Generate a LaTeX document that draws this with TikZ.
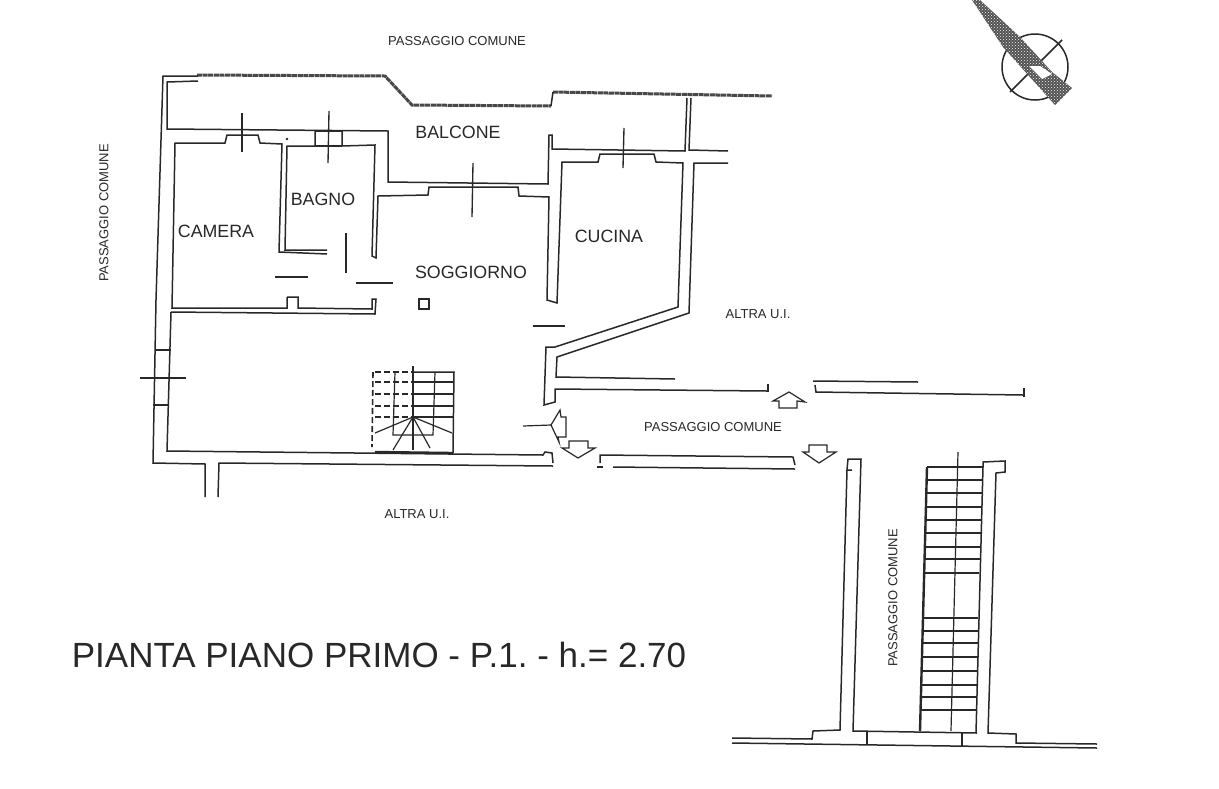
\documentclass[tikz,border=0pt]{standalone}
\usepackage{tikz}
\usepackage{xcolor}
\usepackage{fontspec}
\usetikzlibrary{patterns}
\setmainfont{Liberation Sans}
\frenchspacing
\definecolor{inkdark}{RGB}{40,40,40}
\definecolor{inkgrey}{RGB}{80,80,80}
\tikzset{
    wall/.style={draw=inkdark, line width=1.5pt},
    thinwall/.style={draw=inkdark, line width=1.2pt},
    hatchwall/.style={draw=inkdark!85, line width=3pt, dash pattern=on 5pt off 0.6pt},
    doorline/.style={draw=inkdark, line width=1.35pt},
    stairdash/.style={draw=inkdark, line width=1.6pt, dash pattern=on 6pt off 3pt},
    roomlabel/.style={text=inkdark, font=\fontsize{17.8}{20}\selectfont, inner sep=0pt},
    passlabel/.style={text=inkdark, font=\fontsize{13}{15}\selectfont, inner sep=0pt},
    titlelabel/.style={text=inkdark, font=\fontsize{35}{38}\selectfont, inner sep=0pt}
}

\begin{document}
\begin{tikzpicture}[x=1pt, y=-1pt]
    \fill[white] (0,0) rectangle (1219,788);
    \useasboundingbox (0,0) rectangle (1219,788);

    % balcony edge
    \draw[hatchwall] (197,75) -- (385,76) -- (412,105) -- (551,106);
    \draw[hatchwall] (553,92) -- (772,96);
    \draw[wall] (551,106) -- (553,92);
    \draw[wall] (198,76) -- (163,76) -- (156,300) -- (153,463) -- (205,464) -- (205,497);
    \draw[wall] (198,81) -- (167,82) -- (167,129) -- (388,131) -- (388,182) -- (548,184) -- (549,135) -- (552,135) -- (552,149) -- (685,151) -- (687,98);
    \draw[wall] (691,98) -- (689,150) -- (728,151);

    % outer left wall and window
    \draw[wall] (171,312) -- (167,451) -- (543,455) -- (545,452) -- (552,453) -- (553,463);
    \draw[wall] (155,350) -- (171,350);
    \draw[wall] (153,405) -- (169,405);
    \draw[doorline] (140,378) -- (186,378);
    \draw[wall] (218,497) -- (219,463) -- (553,466);

    % camera and bagno
    \draw[wall] (287,297) -- (287,308) -- (172,308) -- (175,143) -- (225,143) -- (227,135) -- (258,135) -- (260,143) -- (282,144) -- (279,252) -- (327,254);
    \draw[wall] (327,250) -- (285,250) -- (287,146) -- (315,146) -- (315,131) -- (342,131) -- (342,146) -- (375,145) -- (372,256) -- (376,258) -- (378,196) -- (428,195) -- (429,187) -- (518,187) -- (519,196) -- (549,197) -- (547,300) -- (557,303) -- (562,162) -- (598,162) -- (600,154) -- (654,154) -- (656,162) -- (683,163) -- (678,307) -- (555,347) -- (546,347) -- (544,405) -- (555,402) -- (555,389) -- (767,391);
    \draw[wall] (315,146) -- (342,146);
    \draw[wall] (287,297) -- (298,297) -- (298,308) -- (372,309) -- (372,299) -- (376,299) -- (375,314) -- (171,312);
    \fill[inkdark] (287,139) circle (1.3pt);
    \draw[doorline] (242,113) -- (242,152);
    \draw[doorline] (329,111) -- (328,163);
    \draw[doorline] (473,163) -- (472,217);
    \draw[doorline] (624,128) -- (623,168);
    \draw[doorline] (275,277) -- (308,277);
    \draw[doorline] (346,233) -- (346,273);
    \draw[doorline] (356,283) -- (393,283);
    \draw[doorline] (533,326) -- (565,326);
    \draw[wall] (419,299) rectangle (429,309);

    % cucina and corridor walls
    \draw[wall] (728,163) -- (694,163) -- (689,313) -- (557,357) -- (556,377) -- (675,379);
    \draw[wall] (768,384) -- (768,392);
    \draw[wall] (813,381) -- (918,382);
    \draw[wall] (815,385) -- (816,392) -- (1023,395);
    \draw[wall] (1024,388) -- (1024,397);
    \draw[wall] (597,467) -- (603,467);
    \draw[wall] (600,463) -- (600,455) -- (793,457) -- (795,465);
    \draw[wall] (613,467) -- (795,469);

    % entry arrows
    \draw[thinwall] (789,392) -- (805,402) -- (797,401) -- (797,408) -- (779,408) -- (779,401) -- (773,401) -- cycle;
    \draw[thinwall] (551,425) -- (560,410) -- (561,417) -- (566,417) -- (566,437) -- (558,437) -- (559,442) -- cycle;
    \draw[thinwall] (523,426) -- (551,425);
    \draw[thinwall] (578,458) -- (562,448) -- (569,448) -- (569,441) -- (588,441) -- (588,448) -- (595,448) -- cycle;
    \draw[thinwall] (819,463) -- (803,452) -- (809,452) -- (809,445) -- (827,445) -- (827,452) -- (836,452) -- cycle;

    % inner stair
    \draw[stairdash] (375,372) -- (413,372);
    \draw[stairdash] (373,372) -- (372,447);
    \draw[wall] (413,372) -- (454,372) -- (453,453);
    \draw[thinwall] (413,366) -- (413,450);
    \draw[thinwall] (395,372) -- (393,435) -- (433,435) -- (435,372);
    \foreach \ty in {382,394,406,417} {
        \draw[thinwall] (413,\ty) -- (453,\ty);
        \draw[stairdash, line width=1.2pt] (375,\ty) -- (413,\ty);
    }
    \draw[thinwall] (375,433) -- (413,417) -- (452,433);
    \draw[thinwall] (393,450) -- (413,417) -- (430,448);
    \draw[line width=2.4pt, draw=inkdark] (375,452) -- (453,453);

    % long stair and side walls
    \draw[wall] (852,470) -- (847,470) -- (848,459) -- (861,459) -- (853,731) -- (977,733);
    \draw[wall] (847,470) -- (840,730) -- (813,731) -- (812,739) -- (732,738);
    \draw[wall] (983,467) -- (983,462) -- (1005,461) -- (1005,472) -- (996,473) -- (988,733) -- (1016,734) -- (1016,743) -- (1097,744);
    \draw[wall] (732,743) -- (1097,748);
    \draw[wall] (867,732) -- (867,745);
    \draw[wall] (962,733) -- (962,747);
    \draw[line width=2.4pt, draw=inkdark] (927,467) -- (920,731);
    \draw[wall] (983,467) -- (976,733);
    \draw[line width=2pt, draw=inkdark] (927,467) -- (983,467);
    \draw[thinwall] (958,452) -- (951,731);
    \foreach \ty/\tl/\tr in {480/926/983,493/926/982,507/925/982,520/925/981,533/925/981,547/924/981,559/924/980,573/923/979,618/922/978,631/922/978,643/921/978,657/921/978,671/921/977,685/920/977,697/920/977,710/920/976} {
        \draw[wall] (\tl,\ty) -- (\tr,\ty);
    }

    % north mark
    \draw[line width=1.5pt, draw=inkdark] (1035,67) circle (33pt);
    \draw[wall] (1010,92) -- (1062,40);
    \fill[inkgrey, postaction={pattern=crosshatch dots, pattern color=white}] (972,0) -- (980,0) -- (1020,37) -- (1052,72) -- (1072,88) -- (1055,105) -- (1003,47) -- cycle;
    \fill[white] (1029,66) -- (1040,66) -- (1052,74) -- (1042,79) -- cycle;

    \node[passlabel] (passtop) at (457,41) {PASSAGGIO COMUNE};
    \node[passlabel, rotate=90] (passleft) at (104,213) {PASSAGGIO COMUNE};
    \node[passlabel] (passmid) at (713,427) {PASSAGGIO COMUNE};
    \node[passlabel, rotate=90] (passstair) at (893,598) {PASSAGGIO COMUNE};
    \node[passlabel] (altraright) at (758,314) {ALTRA U.I.};
    \node[passlabel] (altrabottom) at (417,514) {ALTRA U.I.};
    \node[roomlabel] (balcone) at (458,132) {BALCONE};
    \node[roomlabel] (bagno) at (323,199) {BAGNO};
    \node[roomlabel] (camera) at (216,231) {CAMERA};
    \node[roomlabel] (cucina) at (609,236) {CUCINA};
    \node[roomlabel] (soggiorno) at (471,272) {SOGGIORNO};
    \node[titlelabel] (title) at (379,655) {PIANTA PIANO PRIMO - P.1. - h.= 2.70};
\end{tikzpicture}
\end{document}
